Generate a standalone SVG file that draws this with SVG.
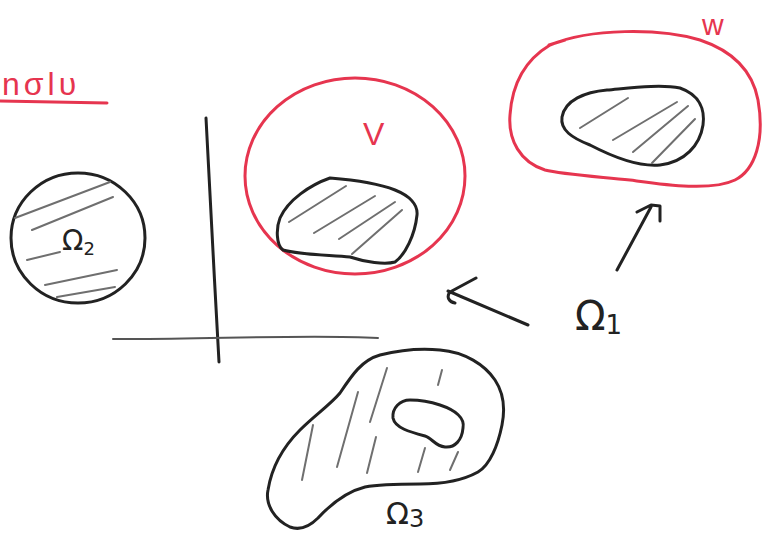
<svg xmlns="http://www.w3.org/2000/svg" width="768" height="538" viewBox="0 0 768 538">
<style>
.ink{fill:none;stroke:#222;stroke-width:3;stroke-linecap:round;stroke-linejoin:round}
.red{fill:none;stroke:#e6354f;stroke-width:3;stroke-linecap:round;stroke-linejoin:round}
.hatch{fill:none;stroke:#6f6f6f;stroke-width:2;stroke-linecap:round}
.axis{fill:none;stroke:#555;stroke-width:2;stroke-linecap:round}
.lbl{font-family:"DejaVu Sans","Liberation Sans",sans-serif;fill:#222}
.rlbl{font-family:"Liberation Sans","DejaVu Sans",sans-serif;fill:#e6354f}
</style>
<rect width="768" height="538" fill="#fff"/>
<g id="title">
<text class="rlbl" x="2" y="95" font-size="32" letter-spacing="4">nσlυ</text>
<path class="red" d="M0,101 L107,103"/>
</g>
<g id="axes">
<path class="ink" d="M206,118 C210,180 214,280 219,362"/>
<path class="axis" d="M113,339 C200,340 300,334 378,338"/>
</g>
<g id="omega2">
<ellipse class="ink" cx="78" cy="238" rx="67" ry="65"/>
<path class="hatch" d="M15,218 L110,182 M32,230 L113,197 M27,260 L60,252 M45,285 L117,270 M57,297 L115,287"/>
<text class="lbl" x="62" y="250" font-size="28">Ω<tspan font-size="18" dy="5">2</tspan></text>
</g>
<g id="V">
<ellipse class="red" cx="355" cy="176" rx="110" ry="98"/>
<text class="rlbl" x="363" y="145" font-size="32">V</text>
<path class="ink" d="M330,178 C355,180 380,184 395,190 C410,196 418,205 417,215 C415,235 405,255 395,262 C385,265 365,262 350,257 C330,255 300,255 283,250 C276,245 276,228 280,218 C288,200 310,185 330,178 Z"/>
<path class="hatch" d="M289,222 L346,186 M314,233 L375,196 M339,239 L395,202 M352,254 L402,210"/>
</g>
<g id="W">
<path class="red" d="M550,45 C590,28 660,28 700,40 C730,50 752,68 758,100 C765,140 755,170 735,180 C710,192 660,184 630,180 C590,176 560,174 545,170 C520,162 508,140 510,115 C512,85 525,60 550,45 Z M549,45 L565,40"/>
<text class="rlbl" x="702" y="35" font-size="30">w</text>
<path class="ink" d="M562,117 C565,100 585,92 607,90 C630,88 660,84 680,88 C700,95 705,110 703,125 C700,145 685,162 660,165 C640,167 615,158 590,145 C572,138 560,130 562,117 Z"/>
<path class="hatch" d="M580,128 L628,98 M613,140 L677,102 M633,152 L688,106 M652,163 L695,119"/>
</g>
<g id="omega1">
<text class="lbl" x="575" y="330" font-size="40">Ω<tspan font-size="26" dy="4">1</tspan></text>
</g>
<g id="omega3">
<path class="ink" d="M290,527 C275,520 265,505 268,490 C272,465 285,445 300,430 C315,415 330,405 340,393 C352,375 362,360 380,355 C400,350 420,348 440,350 C465,352 485,365 495,380 C505,395 505,410 502,425 C498,445 490,465 478,472 C460,482 440,484 420,484 C400,484 380,484 365,487 C345,492 330,505 318,518 C308,528 298,530 290,527 Z"/>
<path class="ink" d="M393,418 C392,408 400,400 410,400 C420,400 428,401 440,405 C455,410 465,418 463,428 C462,440 455,448 445,447 C435,446 432,438 425,436 C410,432 395,428 393,418 Z"/>
<path class="hatch" d="M302,480 L313,425 M337,467 L358,392 M367,473 L376,437 M370,422 L387,368 M438,385 L442,370 M418,472 L425,448 M450,470 L458,452"/>
<text class="lbl" x="386" y="524" font-size="30">Ω<tspan font-size="24" dy="3">3</tspan></text>
</g>
<g id="connectors">
<path class="ink" d="M528,325 L448,291 M476,278 L450,292 C446,297 449,302 455,303"/>
<path class="ink" d="M617,270 L651,207 M637,212 L651,205 L660,206 L660,221"/>
</g>
</svg>
